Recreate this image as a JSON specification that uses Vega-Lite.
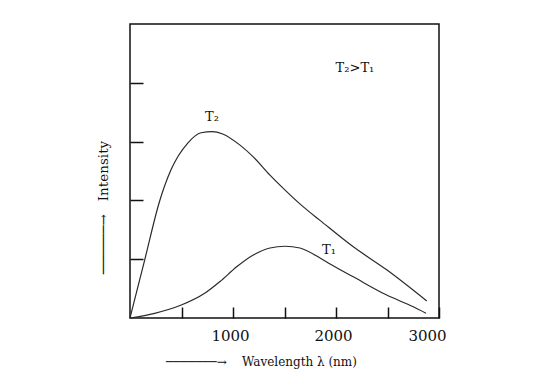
{
  "$schema": "https://vega.github.io/schema/vega-lite/v6.json",
  "width": 309,
  "height": 294,
  "autosize": {"type": "none"},
  "padding": {"left": 130, "top": 24, "right": 104, "bottom": 72},
  "background": "white",
  "config": {
    "view": {"stroke": "#111", "strokeWidth": 1.5},
    "font": "DejaVu Serif"
  },
  "datasets": {
    "curves": [
      {"wavelength": 0, "intensity": 0, "series": "T2"},
      {"wavelength": 143, "intensity": 0.99, "series": "T2"},
      {"wavelength": 288, "intensity": 1.99, "series": "T2"},
      {"wavelength": 398, "intensity": 2.52, "series": "T2"},
      {"wavelength": 563, "intensity": 2.98, "series": "T2"},
      {"wavelength": 690, "intensity": 3.15, "series": "T2"},
      {"wavelength": 800, "intensity": 3.17, "series": "T2"},
      {"wavelength": 900, "intensity": 3.13, "series": "T2"},
      {"wavelength": 1068, "intensity": 2.94, "series": "T2"},
      {"wavelength": 1197, "intensity": 2.74, "series": "T2"},
      {"wavelength": 1359, "intensity": 2.43, "series": "T2"},
      {"wavelength": 1521, "intensity": 2.15, "series": "T2"},
      {"wavelength": 1683, "intensity": 1.89, "series": "T2"},
      {"wavelength": 1845, "intensity": 1.66, "series": "T2"},
      {"wavelength": 2168, "intensity": 1.21, "series": "T2"},
      {"wavelength": 2492, "intensity": 0.82, "series": "T2"},
      {"wavelength": 2881, "intensity": 0.29, "series": "T2"},
      {"wavelength": 0, "intensity": 0, "series": "T1"},
      {"wavelength": 240, "intensity": 0.08, "series": "T1"},
      {"wavelength": 498, "intensity": 0.22, "series": "T1"},
      {"wavelength": 725, "intensity": 0.42, "series": "T1"},
      {"wavelength": 874, "intensity": 0.62, "series": "T1"},
      {"wavelength": 1036, "intensity": 0.87, "series": "T1"},
      {"wavelength": 1197, "intensity": 1.07, "series": "T1"},
      {"wavelength": 1359, "intensity": 1.19, "series": "T1"},
      {"wavelength": 1505, "intensity": 1.22, "series": "T1"},
      {"wavelength": 1650, "intensity": 1.19, "series": "T1"},
      {"wavelength": 1845, "intensity": 1.02, "series": "T1"},
      {"wavelength": 1942, "intensity": 0.92, "series": "T1"},
      {"wavelength": 2168, "intensity": 0.70, "series": "T1"},
      {"wavelength": 2492, "intensity": 0.39, "series": "T1"},
      {"wavelength": 2751, "intensity": 0.19, "series": "T1"},
      {"wavelength": 2874, "intensity": 0.08, "series": "T1"}
    ],
    "labels": [
      {"wavelength": 796, "intensity": 3.42, "label": "T₂"},
      {"wavelength": 1932, "intensity": 1.16, "label": "T₁"},
      {"wavelength": 2184, "intensity": 4.25, "label": "T₂>T₁"}
    ]
  },
  "layer": [
    {
      "data": {"name": "curves"},
      "mark": {"type": "line", "interpolate": "monotone", "color": "#2a2a2a", "strokeWidth": 1.2},
      "encoding": {
        "x": {
          "field": "wavelength", "type": "quantitative",
          "scale": {"domain": [0, 3000], "nice": false},
          "axis": {
            "values": [500, 1000, 1500, 2000, 2500, 3000],
            "labelExpr": "datum.value % 1000 == 0 ? datum.value : ''",
            "domain": false, "grid": false,
            "tickSize": -11, "tickColor": "#111", "tickWidth": 1.5,
            "labelPadding": 21, "labelFontSize": 15, "labelColor": "#111",
            "labelFont": "DejaVu Serif",
            "labelOffset": {"condition": {"test": "datum.value == 3000", "value": -12}, "value": -3},
            "labelFlush": false,
            "title": "───────→\u00a0\u00a0\u00a0\u00a0Wavelength λ (nm)",
            "titleFont": "DejaVu Serif", "titleFontSize": 12, "titleFontWeight": "normal",
            "titleColor": "#111", "titleX": 131, "titleY": 43, "titleBaseline": "middle", "titleAnchor": "middle", "titleAlign": "center"
          }
        },
        "y": {
          "field": "intensity", "type": "quantitative",
          "scale": {"domain": [0, 5], "nice": false},
          "axis": {
            "values": [1, 2, 3, 4],
            "labels": false,
            "domain": false, "grid": false,
            "tickSize": -13, "tickColor": "#111", "tickWidth": 1.5,
            "title": "──────→\u00a0\u00a0\u00a0Intensity",
            "titleFont": "DejaVu Serif", "titleFontSize": 13.5, "titleFontWeight": "normal",
            "titleColor": "#111", "titleX": -27, "titleY": 183, "titleBaseline": "middle", "titleAnchor": "middle", "titleAlign": "center"
          }
        },
        "detail": {"field": "series"}
      }
    },
    {
      "data": {"name": "labels"},
      "mark": {"type": "text", "font": "DejaVu Serif", "fontSize": 13, "color": "#111"},
      "encoding": {
        "x": {"field": "wavelength", "type": "quantitative"},
        "y": {"field": "intensity", "type": "quantitative"},
        "text": {"field": "label"}
      }
    }
  ]
}
